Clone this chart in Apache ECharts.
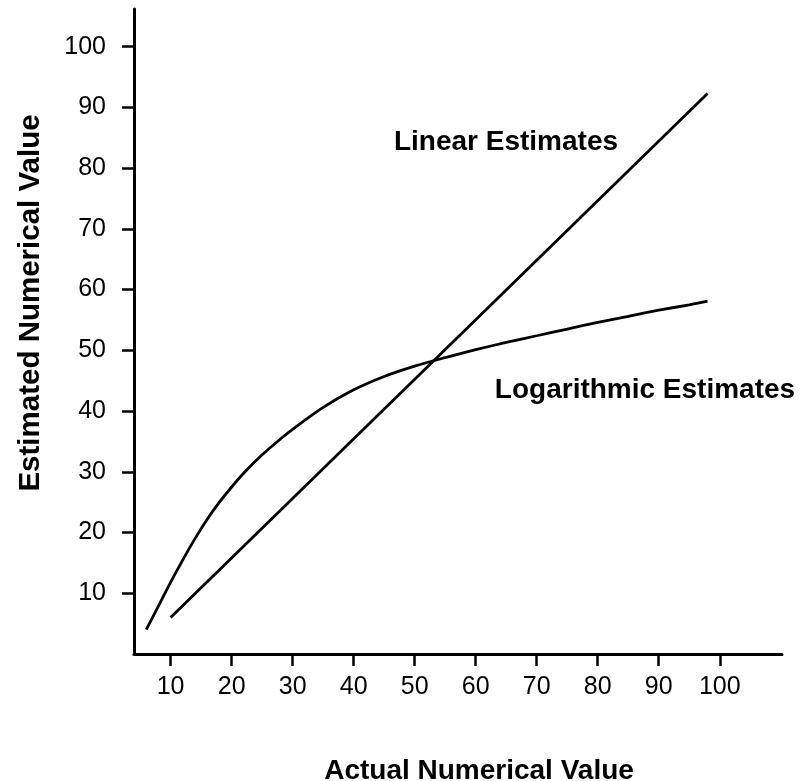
<!DOCTYPE html>
<html>
<head>
<meta charset="utf-8">
<script src="https://cdn.jsdelivr.net/npm/echarts@6/dist/echarts.min.js"></script>
<style>
html,body{margin:0;padding:0;background:#fff;}
#chart{width:803px;height:781px;}
</style>
</head>
<body>
<div id="chart"></div>
<script>
// Data
var xTickValues = [10, 20, 30, 40, 50, 60, 70, 80, 90, 100];
var yTickValues = [10, 20, 30, 40, 50, 60, 70, 80, 90, 100];

var linearX = [10, 98];
var linearY = [6, 92.3];

var logX = [6, 8, 10, 12, 14, 16, 18, 20, 22, 25, 28, 30, 35, 40, 45, 50, 55, 60, 65, 70, 75, 80, 85, 90, 95, 98];
var logY = [4.0, 7.9, 11.8, 15.5, 19.0, 22.2, 25.0, 27.5, 29.8, 32.8, 35.4, 37.0, 40.6, 43.5, 45.7, 47.4, 48.8, 50.1, 51.3, 52.4, 53.5, 54.6, 55.6, 56.6, 57.5, 58.1];

var xAxisTitle = 'Actual Numerical Value';
var yAxisTitle = 'Estimated Numerical Value';
var linearName = 'Linear Estimates';
var logName = 'Logarithmic Estimates';

function pairs(xs, ys) {
  return xs.map(function (x, i) { return [x, ys[i]]; });
}

var FONT = '"Liberation Sans", Arial, Helvetica, sans-serif';
var chart = echarts.init(document.getElementById('chart'), null, {renderer: 'canvas'});

chart.setOption({
  backgroundColor: '#ffffff',
  animation: false,
  grid: {left: 134, top: 9, right: 21, bottom: 127},
  xAxis: {
    type: 'value',
    min: 4,
    max: 110.2,
    splitLine: {show: false},
    axisLine: {show: true, onZero: false, lineStyle: {color: '#000', width: 3}},
    axisTick: {show: true, length: 12, customValues: xTickValues, lineStyle: {color: '#000', width: 2.5}},
    axisLabel: {show: true, customValues: xTickValues, margin: 21, color: '#000', fontSize: 25, fontFamily: FONT}
  },
  yAxis: {
    type: 'value',
    min: 0,
    max: 106.2,
    splitLine: {show: false},
    axisLine: {show: true, onZero: false, lineStyle: {color: '#000', width: 3}},
    axisTick: {show: true, length: 12, customValues: yTickValues, lineStyle: {color: '#000', width: 2.5}},
    axisLabel: {show: true, customValues: yTickValues, margin: 28, color: '#000', fontSize: 25, fontFamily: FONT}
  },
  series: [
    {
      name: linearName,
      type: 'line',
      data: pairs(linearX, linearY),
      showSymbol: false,
      lineStyle: {color: '#000', width: 2.8},
      z: 3
    },
    {
      name: logName,
      type: 'line',
      data: pairs(logX, logY),
      smooth: 0.3,
      showSymbol: false,
      lineStyle: {color: '#000', width: 2.8},
      z: 3
    }
  ],
  graphic: [
    {type: 'text', x: 479, y: 771, style: {text: xAxisTitle, fill: '#000', font: 'bold 28px ' + FONT, textAlign: 'center', textVerticalAlign: 'middle'}},
    {type: 'text', rotation: Math.PI / 2, x: 31, y: 303, style: {text: yAxisTitle, fill: '#000', font: 'bold 29.5px ' + FONT, textAlign: 'center', textVerticalAlign: 'middle'}},
    {type: 'text', x: 506, y: 142, style: {text: linearName, fill: '#000', font: 'bold 28px ' + FONT, textAlign: 'center', textVerticalAlign: 'middle'}},
    {type: 'text', x: 645, y: 390, style: {text: logName, fill: '#000', font: 'bold 28px ' + FONT, textAlign: 'center', textVerticalAlign: 'middle'}}
  ]
});
</script>
</body>
</html>
